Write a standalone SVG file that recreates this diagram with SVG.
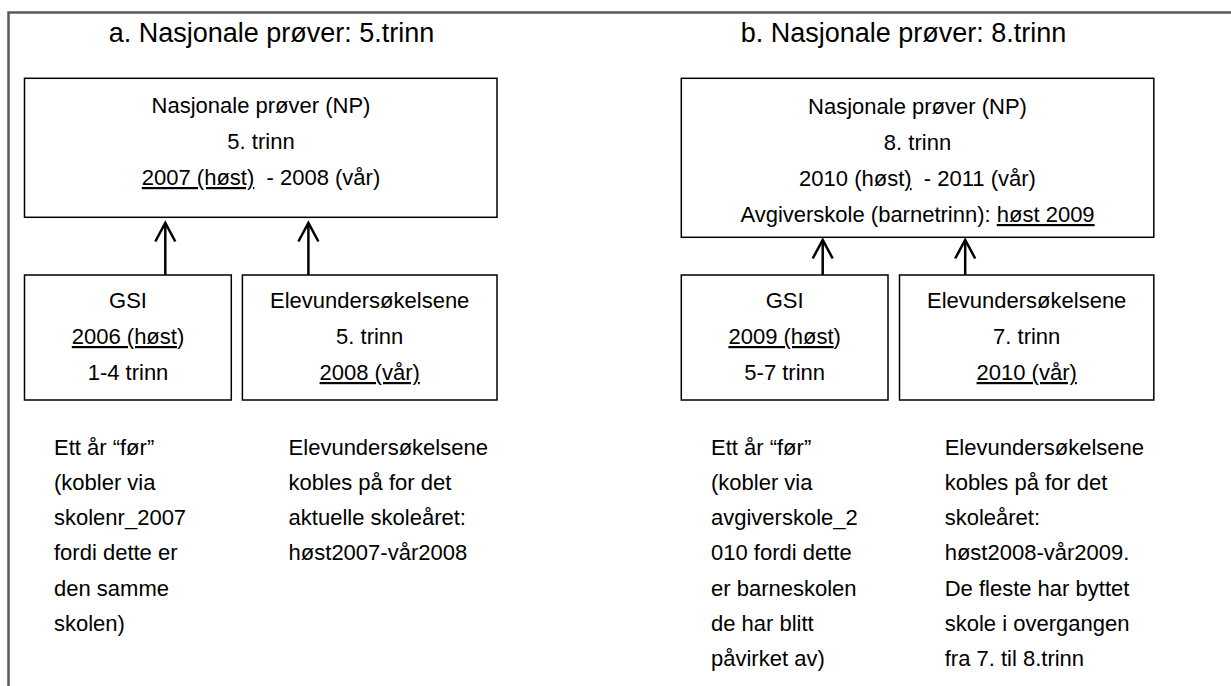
<svg xmlns="http://www.w3.org/2000/svg" width="1231" height="686" viewBox="0 0 1231 686">
<style>
text{font-family:"Liberation Sans",Arial,sans-serif;fill:#000;white-space:pre}
.t{font-size:27px;text-anchor:middle}
.c{font-size:22px;text-anchor:middle}
.l{font-size:22px}
.u{text-decoration:underline}
.box{fill:#fff;stroke:#000;stroke-width:1.5}
.conn{stroke:#000;stroke-width:2.5;fill:none}
</style>
<defs>
<marker id="ah" viewBox="0 0 22 22" refX="20" refY="11" markerWidth="22" markerHeight="22" markerUnits="userSpaceOnUse" orient="auto" overflow="visible">
<path d="M1.5,1 L20,11 L1.5,21" fill="none" stroke="#000" stroke-width="2.5"/>
</marker>
</defs>
<rect width="1231" height="686" fill="#fff"/>
<path d="M8.5,690 V12.5 H1235" fill="none" stroke="#595959" stroke-width="2.5"/>

<text class="t" x="271.5" y="42">a. Nasjonale prøver: 5.trinn</text>
<text class="t" x="903.5" y="42">b. Nasjonale prøver: 8.trinn</text>

<g id="connectors">
<line class="conn" x1="165.3" y1="275" x2="165.3" y2="223" marker-end="url(#ah)"/>
<line class="conn" x1="308.4" y1="275" x2="308.4" y2="223" marker-end="url(#ah)"/>
<line class="conn" x1="822.7" y1="275" x2="822.7" y2="240" marker-end="url(#ah)"/>
<line class="conn" x1="965.2" y1="275" x2="965.2" y2="240" marker-end="url(#ah)"/>
</g>

<g id="np5">
<rect class="box" x="24.5" y="78.3" width="472.5" height="139"/>
<text class="c" x="261" y="113">Nasjonale prøver (NP)</text>
<text class="c" x="261" y="149">5. trinn</text>
<text class="c" x="261" y="185"><tspan class="u">2007 (høst)</tspan>  - 2008 (vår)</text>
</g>

<g id="gsi5">
<rect class="box" x="24.5" y="275" width="206.8" height="125"/>
<text class="c" x="128" y="308">GSI</text>
<text class="c" x="128" y="344"><tspan class="u">2006 (høst</tspan>)</text>
<text class="c" x="128" y="380">1-4 trinn</text>
</g>

<g id="elev5">
<rect class="box" x="242.4" y="275" width="254.6" height="125"/>
<text class="c" x="369.7" y="308">Elevundersøkelsene</text>
<text class="c" x="369.7" y="344">5. trinn</text>
<text class="c" x="369.7" y="380"><tspan class="u">2008 (vår)</tspan></text>
</g>

<g id="note5a">
<text class="l" x="54" y="454.5">Ett år “før”</text>
<text class="l" x="54" y="489.8">(kobler via</text>
<text class="l" x="54" y="525.1">skolenr_2007</text>
<text class="l" x="54" y="560.4">fordi dette er</text>
<text class="l" x="54" y="595.7">den samme</text>
<text class="l" x="54" y="631">skolen)</text>
</g>

<g id="note5b">
<text class="l" x="288.6" y="454.5">Elevundersøkelsene</text>
<text class="l" x="288.6" y="489.8">kobles på for det</text>
<text class="l" x="288.6" y="525.1">aktuelle skoleåret:</text>
<text class="l" x="288.6" y="560.4">høst2007-vår2008</text>
</g>

<g id="np8">
<rect class="box" x="681.3" y="78.3" width="472.5" height="159"/>
<text class="c" x="917.5" y="114">Nasjonale prøver (NP)</text>
<text class="c" x="917.5" y="150">8. trinn</text>
<text class="c" x="917.5" y="186">2010 (høst<tspan class="u">)</tspan>  - 2011 (vår)</text>
<text class="c" x="917.5" y="222">Avgiverskole (barnetrinn): <tspan class="u">høst 2009</tspan></text>
</g>

<g id="gsi8">
<rect class="box" x="681.3" y="275" width="206.7" height="125"/>
<text class="c" x="784.7" y="308">GSI</text>
<text class="c" x="784.7" y="344"><tspan class="u">2009 (høst</tspan>)</text>
<text class="c" x="784.7" y="380">5-7 trinn</text>
</g>

<g id="elev8">
<rect class="box" x="899.5" y="275" width="254.3" height="125"/>
<text class="c" x="1026.7" y="308">Elevundersøkelsene</text>
<text class="c" x="1026.7" y="344">7. trinn</text>
<text class="c" x="1026.7" y="380"><tspan class="u">2010 (vår)</tspan></text>
</g>

<g id="note8a">
<text class="l" x="711" y="454.5">Ett år “før”</text>
<text class="l" x="711" y="489.8">(kobler via</text>
<text class="l" x="711" y="525.1">avgiverskole_2</text>
<text class="l" x="711" y="560.4">010 fordi dette</text>
<text class="l" x="711" y="595.7">er barneskolen</text>
<text class="l" x="711" y="631">de har blitt</text>
<text class="l" x="711" y="666.3">påvirket av)</text>
</g>

<g id="note8b">
<text class="l" x="944.7" y="454.5">Elevundersøkelsene</text>
<text class="l" x="944.7" y="489.8">kobles på for det</text>
<text class="l" x="944.7" y="525.1">skoleåret:</text>
<text class="l" x="944.7" y="560.4">høst2008-vår2009.</text>
<text class="l" x="944.7" y="595.7">De fleste har byttet</text>
<text class="l" x="944.7" y="631">skole i overgangen</text>
<text class="l" x="944.7" y="666.3">fra 7. til 8.trinn</text>
</g>
</svg>
